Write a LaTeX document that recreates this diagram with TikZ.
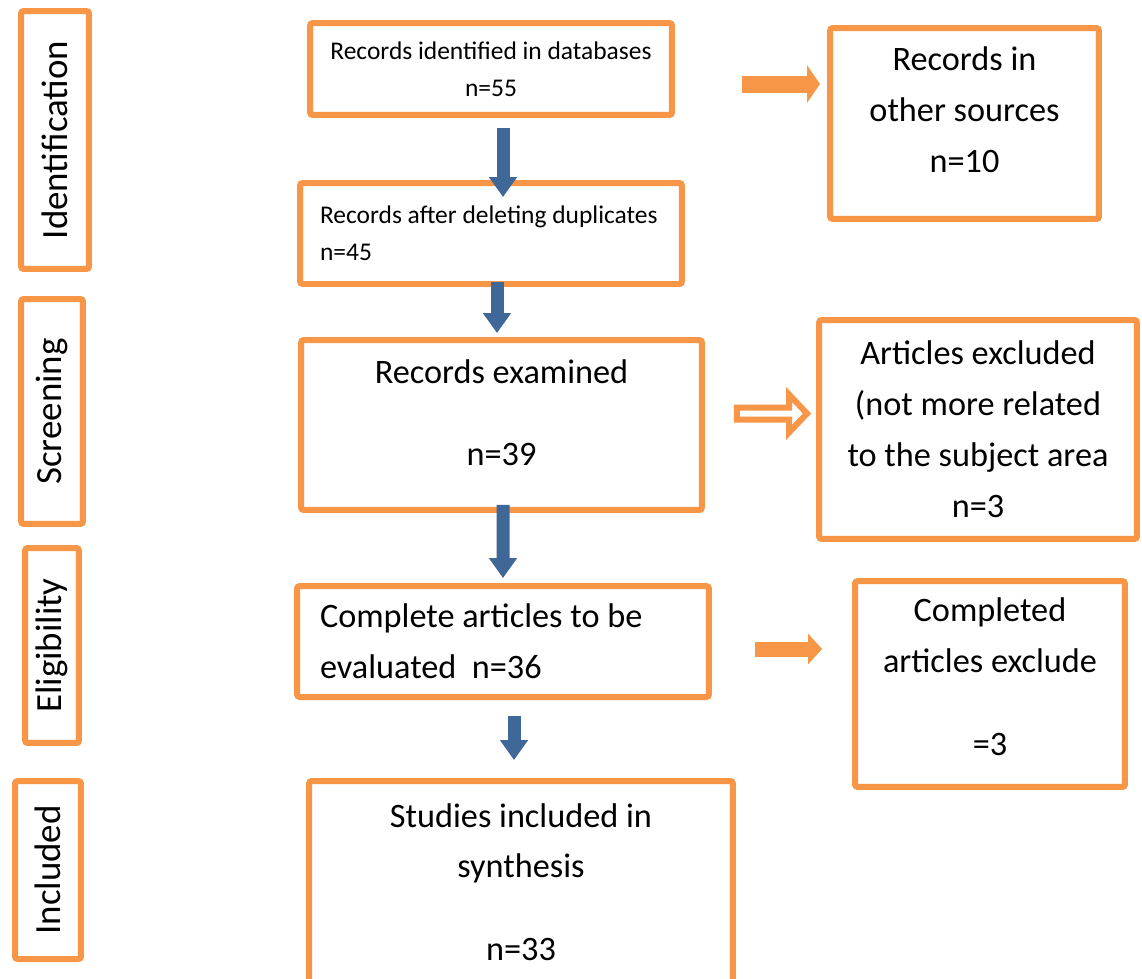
\documentclass[tikz,border=0pt]{standalone}
\usepackage{fontspec}
\setmainfont{Carlito}
\usetikzlibrary{arrows.meta,calc}
\definecolor{boxorange}{HTML}{F79646}
\definecolor{arrowblue}{HTML}{3F6797}
\begin{document}
\begin{tikzpicture}[x=0.02cm, y=-0.02cm,
  every node/.style={draw=boxorange, line width=0.12cm, rounded corners=1.5pt, align=center, fill=white, text=black},
  big/.style={font=\fontsize{19.5}{29}\selectfont},
  small/.style={font=\fontsize{14.5}{21}\selectfont},
  phase/.style={rotate=90, font=\fontsize{21}{25}\selectfont},
  down/.style={arrowblue, line width=0.26cm, -{Triangle[length=0.4cm,width=0.54cm]}},
  side/.style={boxorange, line width=0.34cm, -{Triangle[length=0.26cm,width=0.74cm]}}]
\useasboundingbox (0,0) rectangle (1142,978);
\clip (0,0) rectangle (1142,978);
% phases
\node (id) [phase, minimum width=5.16cm, minimum height=1.36cm] at (55,140) {Identification};
\node (sc) [phase, minimum width=4.5cm, minimum height=1.24cm] at (52,411.5) {Screening};
\node (el) [phase, minimum width=3.9cm, minimum height=1.08cm] at (52,645.5) {Eligibility};
\node (in) [phase, minimum width=3.56cm, minimum height=1.32cm] at (48,870) {Included};
% main column
\node (b1) [small, minimum width=7.24cm, minimum height=1.84cm] at (491,69) {Records identified in databases\\n=55};
\node (b2) [small, text width=6.84cm, inner xsep=0.4cm, minimum height=2.02cm, align=flush left] at (491,233.5) {Records after deleting duplicates\\n=45};
\node (b3) [big, minimum width=8.02cm, minimum height=3.4cm, text depth=0.5cm] at (501.5,425) {Records examined\\[18pt]n=39};
\node (b4) [big, text width=7.32cm, inner xsep=0.46cm, minimum height=2.22cm, align=flush left] at (503,641.5) {Complete articles to be\\evaluated\ \ n=36};
\node (b5) [big, minimum width=8.48cm, minimum height=4.04cm] at (521,882) {Studies included in\\synthesis\\[18pt]n=33};
% side column
\node (r1) [big, minimum width=5.38cm, minimum height=3.82cm, text depth=0.55cm] at (964.5,123.5) {Records in\\other sources\\n=10};
\node (r2) [big, minimum width=6.36cm, minimum height=4.38cm] at (978,429.5) {Articles excluded\\(not more related\\to the subject area\\n=3};
\node (r3) [big, minimum width=5.4cm, minimum height=4.12cm, text depth=0.3cm] at (990,684) {Completed\\articles exclude\\[18pt]=3};
% arrows
\draw[down] ($(b1.south)+(12,10)$) -- ($(b2.north)+(12,17)$);
\draw[down] ($(b2.south)+(6,-5)$) -- ($(b3.north)+(-4.5,-4)$);
\draw[down] ($(b3.south)+(1.5,-8)$) -- ($(b4.north)+(0,-5)$);
\draw[down] ($(b4.south)+(11,16)$) -- ($(b5.north)+(-7,-18)$);
\draw[side] ($(b1.east)+(67,15)$) -- ($(b1.east -| r1.west)+(-7,15)$);
\coordinate (s) at ($(b3.east)+(32,-11.5)$);
\coordinate (t) at ($(b3.east -| r2.west)+(-9,-11.5)$);
\draw[boxorange, line width=0.12cm, fill=white] ($(s)+(0,-6)$) -- ($(t)+(-18,-6)$) -- ($(t)+(-18,-19)$) -- (t) -- ($(t)+(-18,19)$) -- ($(t)+(-18,6)$) -- ($(s)+(0,6)$) -- cycle;
\draw[side, line width=0.3cm, -{Triangle[length=0.28cm,width=0.6cm]}] ($(b4.east)+(43,7.5)$) -- ($(b4.east -| r3.west)+(-30,7.5)$);
\end{tikzpicture}
\end{document}
